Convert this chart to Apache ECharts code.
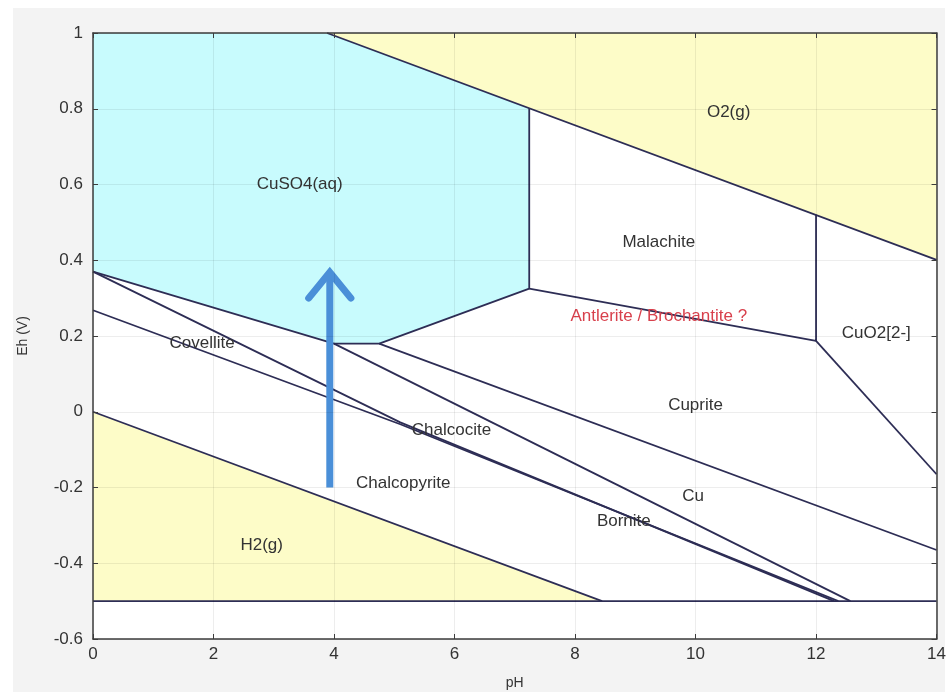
<!DOCTYPE html>
<html>
<head>
<meta charset="utf-8">
<script src="https://cdn.jsdelivr.net/npm/echarts@6/dist/echarts.min.js"></script>
<style>
html, body { margin: 0; padding: 0; background: #fff; }
.panel { position: absolute; left: 13px; top: 8px; width: 932px; height: 684px; background: #f3f3f3; }
#pourbaix { position: absolute; left: 0; top: 0; width: 949px; height: 695px; }
</style>
</head>
<body>
<div class="panel"></div>
<div id="pourbaix"></div>
<script>
// axis ranges / ticks
const phRange = [0, 14]
const ehRange = [-0.6, 1]

// filled fields, points are [pH, Eh]
const cuso4Field = [[0, 1], [3.885, 1], [7.24, 0.801], [7.24, 0.325], [4.75, 0.18], [4, 0.18], [0, 0.37]]
const o2Field = [[3.885, 1], [14, 1], [14, 0.401]]
const h2Field = [[0, 0], [8.45, -0.5], [0, -0.5]]

// boundary lines between the fields
const boundaries = [
  [[3.885, 1], [14, 0.401]],
  [[0, 0], [8.45, -0.5]],
  [[0, -0.5], [14, -0.5]],
  [[0, 0.37], [4, 0.18], [4.75, 0.18], [7.24, 0.325], [7.24, 0.801]],
  [[7.24, 0.325], [12, 0.187], [12, 0.52]],
  [[12, 0.187], [14, -0.165]],
  [[4, 0.18], [12.57, -0.5]],
  [[4.75, 0.18], [14, -0.365]],
  [[0, 0.37], [5.1, -0.028], [12.3, -0.5]],
  [[0, 0.268], [5.1, -0.033], [12.37, -0.5]]
]

// field names and where they sit
const fieldNames = ['CuSO4(aq)', 'O2(g)', 'Malachite', 'Antlerite / Brochantite ?', 'CuO2[2-]', 'Covellite',
  'Cuprite', 'Chalcocite', 'Chalcopyrite', 'Cu', 'Bornite', 'H2(g)']
const fieldAnchors = [[3.43, 0.6], [10.55, 0.79], [9.39, 0.448], [9.39, 0.253], [13.0, 0.206], [1.81, 0.18],
  [10.0, 0.017], [5.95, -0.048], [5.15, -0.188], [9.96, -0.222], [8.81, -0.29], [2.8, -0.353]]

// blue arrow
const arrowShaft = [[3.93, -0.2], [3.93, 0.355]]
const arrowHead = [[3.58, 0.3], [3.93, 0.368], [4.28, 0.3]]

const lineColor = '#2d2d55'
const frameColor = '#3c3c3c'

function fieldSeries (points, color) {
  return {
    type: 'custom',
    silent: true,
    z: 1,
    data: [[0, 0]],
    renderItem (params, api) {
      return {
        type: 'polygon',
        shape: { points: points.map(p => api.coord(p)) },
        style: { fill: color }
      }
    }
  }
}

const myChart = echarts.init(document.getElementById('pourbaix'))

let seriesArr = [
  fieldSeries(cuso4Field, '#c8fbfd'),
  fieldSeries(o2Field, '#fdfcc8'),
  fieldSeries(h2Field, '#fdfcc8')
]

boundaries.map(b => {
  seriesArr.push({
    type: 'line',
    data: b,
    showSymbol: false,
    silent: true,
    z: 3,
    lineStyle: { color: lineColor, width: 1.8 }
  })
})

seriesArr.push({
  type: 'line',
  data: arrowShaft,
  showSymbol: false,
  silent: true,
  z: 4,
  lineStyle: { color: '#4a8fd8', width: 7, cap: 'butt' }
})
seriesArr.push({
  type: 'line',
  data: arrowHead,
  showSymbol: false,
  silent: true,
  z: 4,
  lineStyle: { color: '#4a8fd8', width: 7, cap: 'round', join: 'miter' }
})

seriesArr.push({
  type: 'custom',
  silent: true,
  z: 5,
  data: fieldAnchors,
  renderItem (params, api) {
    const pt = api.coord([api.value(0), api.value(1)])
    const name = fieldNames[params.dataIndex]
    return {
      type: 'text',
      x: pt[0],
      y: pt[1],
      style: {
        text: name,
        fill: name.indexOf('Antlerite') === 0 ? '#d8404c' : '#333',
        font: '17px "Liberation Sans", Arial, sans-serif',
        align: 'center',
        verticalAlign: 'middle'
      }
    }
  }
})

// axes sit above the fills so the inward ticks stay visible; grid lines are translucent
const tickStyle = { inside: true, length: 5, lineStyle: { color: frameColor } }
const frameLine = { show: true, onZero: false, lineStyle: { color: frameColor, width: 1.5 } }
const gridLine = { show: true, lineStyle: { color: 'rgba(0, 0, 0, 0.07)' } }

var option = {
  animation: false,
  grid: { left: 93, right: 11, top: 33, bottom: 49, show: true, backgroundColor: '#fff', borderWidth: 0 },
  xAxis: [
    {
      type: 'value',
      z: 10,
      min: phRange[0],
      max: phRange[1],
      interval: 2,
      position: 'bottom',
      axisLine: frameLine,
      axisTick: tickStyle,
      axisLabel: { margin: 7, fontSize: 17, color: '#333', fontFamily: 'Liberation Sans' },
      splitLine: gridLine,
      name: 'pH',
      nameLocation: 'middle',
      nameGap: 37,
      nameTextStyle: { fontSize: 14, color: '#333', fontFamily: 'Liberation Sans' }
    },
    {
      type: 'value',
      z: 10,
      min: phRange[0],
      max: phRange[1],
      interval: 2,
      position: 'top',
      axisLine: frameLine,
      axisTick: tickStyle,
      axisLabel: { show: false },
      splitLine: { show: false }
    }
  ],
  yAxis: [
    {
      type: 'value',
      z: 10,
      min: ehRange[0],
      max: ehRange[1],
      interval: 0.2,
      position: 'left',
      axisLine: frameLine,
      axisTick: tickStyle,
      axisLabel: {
        margin: 10,
        fontSize: 17,
        color: '#333',
        fontFamily: 'Liberation Sans',
        formatter: v => String(Math.round(v * 10) / 10)
      },
      splitLine: gridLine,
      name: 'Eh (V)',
      nameLocation: 'middle',
      nameGap: 63,
      nameTextStyle: { fontSize: 14, color: '#333', fontFamily: 'Liberation Sans' }
    },
    {
      type: 'value',
      z: 10,
      min: ehRange[0],
      max: ehRange[1],
      interval: 0.2,
      position: 'right',
      axisLine: frameLine,
      axisTick: tickStyle,
      axisLabel: { show: false },
      splitLine: { show: false }
    }
  ],
  series: seriesArr
}
myChart.setOption(option)
</script>
</body>
</html>
